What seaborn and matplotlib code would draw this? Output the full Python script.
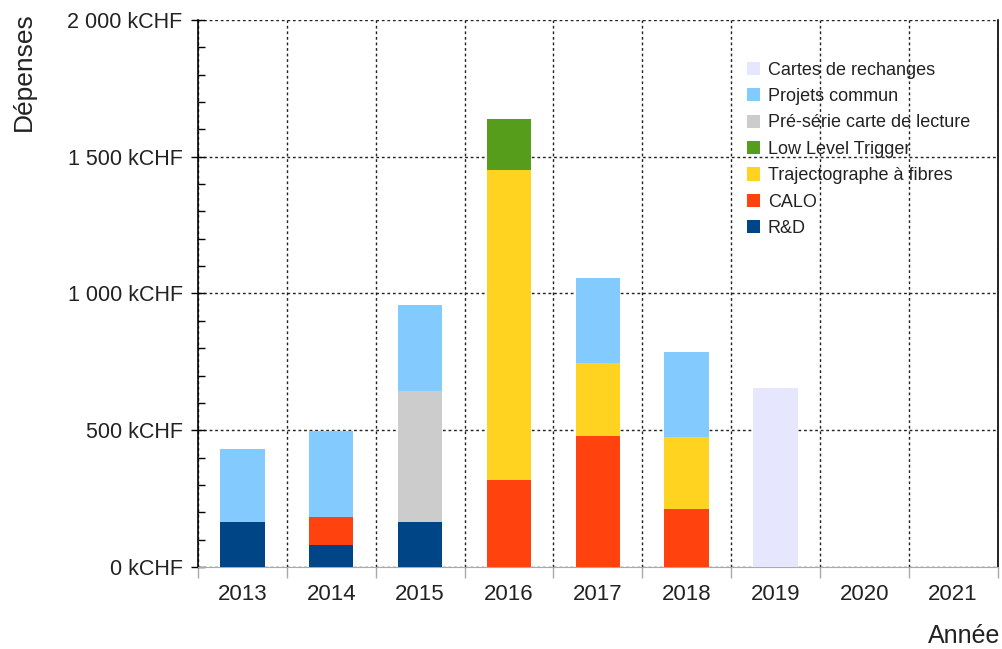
import numpy as np
import pandas as pd
import matplotlib
matplotlib.use("Agg")
import matplotlib.pyplot as plt
import seaborn as sns
from matplotlib.ticker import MultipleLocator, FuncFormatter, FixedLocator, NullFormatter

# data (kCHF)
years = ["2013", "2014", "2015", "2016", "2017", "2018", "2019", "2020", "2021"]
rd = [165, 80, 165, 0, 0, 0, 0, 0, 0]
calo = [0, 103, 0, 318, 479, 212, 0, 0, 0]
traj = [0, 0, 0, 1134, 267, 263, 0, 0, 0]
llt = [0, 0, 0, 186, 0, 0, 0, 0, 0]
preserie = [0, 0, 478, 0, 0, 0, 0, 0, 0]
projets = [267, 314, 315, 0, 311, 311, 0, 0, 0]
cartes = [0, 0, 0, 0, 0, 0, 654, 0, 0]

series = [
    ("R&D", rd, "#004586"),
    ("CALO", calo, "#ff420e"),
    ("Trajectographe à fibres", traj, "#ffd320"),
    ("Low Level Trigger", llt, "#579d1c"),
    ("Pré-série carte de lecture", preserie, "#cccccc"),
    ("Projets commun", projets, "#83caff"),
    ("Cartes de rechanges", cartes, "#e6e6ff"),
]

sns.set_style("white")
plt.rcParams['font.family'] = ['Liberation Sans', 'DejaVu Sans']
txt = "#222222"

fig = plt.figure(figsize=(10.02, 6.49), dpi=100)
ax = fig.add_axes([0.1976, 0.1264, 0.798, 0.8428])

bottom = np.zeros(len(years))
for name, vals, col in series:
    df = pd.DataFrame({"year": years, "val": vals})
    sns.barplot(data=df, x="year", y="val", color=col, width=0.5,
                bottom=bottom, ax=ax, label=name, saturation=1, zorder=3,
                linewidth=0, edgecolor="none")
    bottom = bottom + np.array(vals)

ax.set_xlim(-0.5, 8.5)
ax.set_ylim(0, 2000)

# y axis
ax.yaxis.set_major_locator(MultipleLocator(500))
ax.yaxis.set_minor_locator(MultipleLocator(100))
ax.yaxis.set_major_formatter(FuncFormatter(lambda v, p: f"{int(v):,}".replace(",", " ") + " kCHF"))
ax.tick_params(axis="y", which="major", direction="inout", length=10, width=1,
               color="black", labelsize=15.5, labelcolor=txt, pad=6, left=True)
ax.tick_params(axis="y", which="minor", direction="in", length=5, width=1,
               color="black", left=True)

# x axis: category labels, boundary ticks
ax.xaxis.set_minor_locator(FixedLocator(np.arange(-0.5, 9, 1)))
ax.xaxis.set_minor_formatter(NullFormatter())
ax.tick_params(axis="x", which="major", length=0, labelsize=16, labelcolor=txt, pad=12)
ax.tick_params(axis="x", which="minor", direction="out", length=8, width=1,
               color="#aaaaaa", bottom=True)

# grid
ax.grid(False)
ax.yaxis.grid(True, which="major", linestyle=(0, (2, 2)), color="#222222", linewidth=1, zorder=0)
ax.xaxis.grid(True, which="minor", linestyle=(0, (2, 2)), color="#222222", linewidth=1, zorder=0)
ax.set_axisbelow(True)

for s in ["left", "right"]:
    ax.spines[s].set_color("black")
    ax.spines[s].set_linewidth(1.2)
ax.spines["bottom"].set_color("#aaaaaa")
ax.spines["top"].set_visible(False)

ax.set_ylabel("Dépenses", fontsize=19, color=txt, loc="top")
ax.yaxis.set_label_coords(-0.203, 1.014)
ax.set_xlabel("Année", fontsize=18, color=txt, loc="right")
ax.xaxis.set_label_coords(1.003, -0.105)

handles, labels = ax.get_legend_handles_labels()
leg = ax.legend(handles[::-1], labels[::-1], loc="upper left",
                bbox_to_anchor=(0.6775, 0.937), frameon=False, fontsize=13,
                handlelength=0.75, handleheight=0.75, handletextpad=0.4,
                labelspacing=0.52, borderaxespad=0)
for t in leg.get_texts():
    t.set_color(txt)

fig.savefig("out.png", dpi=100)
